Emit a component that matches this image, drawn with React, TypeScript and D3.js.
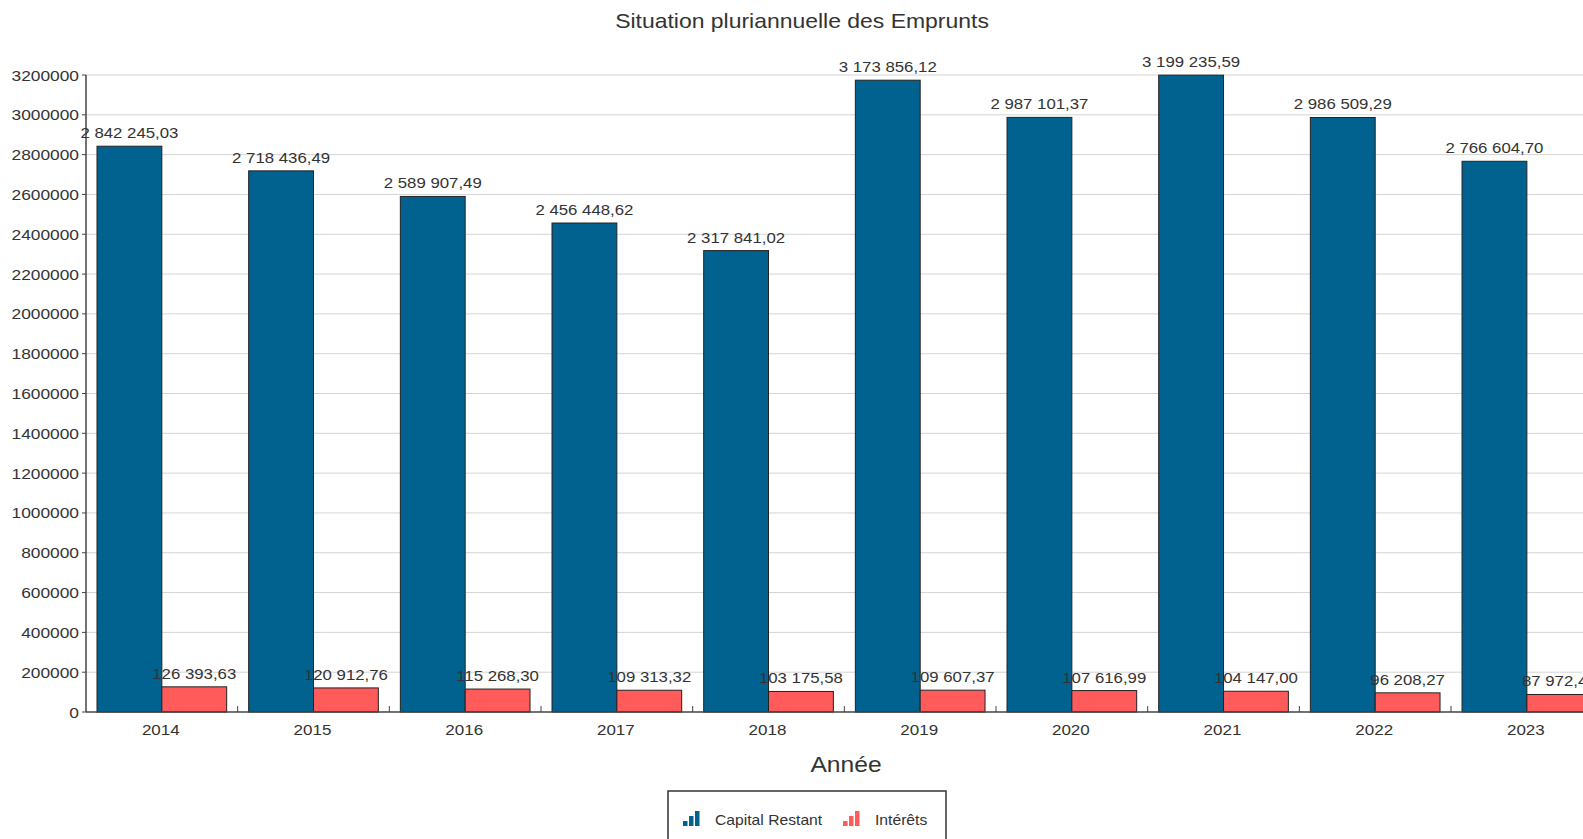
import React from "react";
import * as d3 from "d3";

const years = ["2014", "2015", "2016", "2017", "2018", "2019", "2020", "2021", "2022", "2023"];
const capitalRestant = [2842245.03, 2718436.49, 2589907.49, 2456448.62, 2317841.02, 3173856.12, 2987101.37, 3199235.59, 2986509.29, 2766604.7];
const interets = [126393.63, 120912.76, 115268.3, 109313.32, 103175.58, 109607.37, 107616.99, 104147.0, 96208.27, 87972.45];
const yTicks = [0, 200000, 400000, 600000, 800000, 1000000, 1200000, 1400000, 1600000, 1800000, 2000000, 2200000, 2400000, 2600000, 2800000, 3000000, 3200000];
const seriesNames = ["Capital Restant", "Intérêts"];
const seriesColors = ["#02628F", "#FF5B5B"];

const W = 1583;
const H = 839;
const LEFT = 86;
const TOP = 75;
const BASE = 712;
const BAND = 151.67;
const SX = 1.12;
const FONT = "'Liberation Sans', Arial, sans-serif";
const TXT = "#333";

const fr = d3.formatLocale({ decimal: ",", thousands: "\u00a0", grouping: [3], currency: ["", "€"] });
const fmt = fr.format(",.2f");

function T({ x, y, size, anchor = "middle", children, color = TXT, dy = 0 }: any) {
  return (
    <g transform={`translate(${x},${y}) scale(${SX},1)`}>
      <text x={0} y={dy} fontSize={size} textAnchor={anchor} fill={color} fontFamily={FONT}>
        {children}
      </text>
    </g>
  );
}

function Icon({ x, y, color }: any) {
  const hs = [5, 10, 15];
  return (
    <g>
      {hs.map((h, i) => (
        <rect key={i} x={x + i * 6} y={y - h} width={4.5} height={h} fill={color} />
      ))}
    </g>
  );
}

export default function App() {
  const x = d3.scaleBand<string>().domain(years).range([LEFT, LEFT + BAND * years.length]).padding(0);
  const inner = d3.scaleBand<string>().domain(seriesNames).range([11, BAND - 11]).padding(0);
  const y = d3.scaleLinear().domain([0, 3200000]).range([BASE, TOP]);
  const series = [capitalRestant, interets];
  const right = LEFT + BAND * years.length;

  return (
    <svg width={W} height={H} style={{ position: "absolute", left: 0, top: 0, background: "#fff", display: "block" }}>
      <rect x={0} y={0} width={W} height={H} fill="#fff" />
      {yTicks.filter((t) => t > 0).map((t) => (
        <line key={t} x1={LEFT} x2={right} y1={y(t)} y2={y(t)} stroke="#d4d4d4" strokeWidth={1} />
      ))}
      {years.map((yr, i) =>
        series.map((s, k) => {
          const bx = (x(yr) as number) + (inner(seriesNames[k]) as number);
          return (
            <rect
              key={yr + k}
              x={bx}
              y={y(s[i])}
              width={inner.bandwidth()}
              height={BASE - y(s[i])}
              fill={seriesColors[k]}
              stroke="#222"
              strokeWidth={1}
            />
          );
        })
      )}
      <line x1={LEFT} x2={LEFT} y1={TOP} y2={BASE} stroke="#444" strokeWidth={1.5} />
      <line x1={LEFT} x2={right} y1={BASE} y2={BASE} stroke="#444" strokeWidth={1.5} />
      {yTicks.map((t) => (
        <g key={t}>
          <line x1={LEFT - 4} x2={LEFT} y1={y(t)} y2={y(t)} stroke="#444" strokeWidth={1} />
          <T x={79} y={y(t)} size={15.5} anchor="end" dy={5.5}>{String(t)}</T>
        </g>
      ))}
      {years.map((yr, i) => (
        <g key={yr}>
          {i > 0 && <line x1={x(yr)} x2={x(yr)} y1={BASE - 6} y2={BASE} stroke="#444" strokeWidth={1} />}
          <T x={(x(yr) as number) + BAND / 2 - 1} y={735} size={15.2}>{yr}</T>
        </g>
      ))}
      {years.map((yr, i) =>
        series.map((s, k) => {
          const cx = (x(yr) as number) + (inner(seriesNames[k]) as number) + inner.bandwidth() / 2;
          return (
            <T key={"l" + yr + k} x={cx} y={y(s[i]) - 8} size={15}>
              {fmt(s[i])}
            </T>
          );
        })
      )}
      <T x={802} y={28} size={20.5}>Situation pluriannuelle des Emprunts</T>
      <T x={846} y={772} size={22}>Année</T>
      <rect x={668} y={791} width={278} height={70} fill="#fff" stroke="#333" strokeWidth={1.5} />
      <Icon x={683} y={826} color={seriesColors[0]} />
      <T x={715} y={825} size={14} anchor="start">{seriesNames[0]}</T>
      <Icon x={843} y={826} color={seriesColors[1]} />
      <T x={875} y={825} size={14} anchor="start">{seriesNames[1]}</T>
    </svg>
  );
}
